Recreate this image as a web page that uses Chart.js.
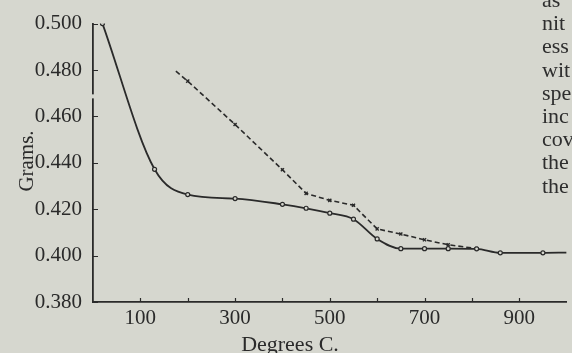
<!DOCTYPE html>
<html>
<head>
<meta charset="utf-8">
<script src="https://cdn.jsdelivr.net/npm/chart.js@4"></script>
<style>
  html, body { margin: 0; padding: 0; background: #d6d7cf; overflow: hidden; }
  #wrap { position: relative; width: 572px; height: 353px; }
  #plot { position: absolute; left: 0; top: 0; }
  #sideText {
    position: absolute; left: 542px; top: -12px; width: 60px;
    font: 22px "Liberation Serif", serif; line-height: 23.2px; color: #2e2e2e;
    white-space: nowrap;
  }
</style>
</head>
<body>
<div id="wrap">
  <canvas id="plot" width="572" height="353"></canvas>
  <div id="sideText">as<br>nit<br>ess<br>wit<br>spe<br>inc<br>cov<br>the<br>the</div>
</div>
<script>
const solidTemps = [20, 130, 200, 300, 400, 450, 500, 550, 600, 650, 700, 750, 810, 860, 950, 1000];
const solidGrams = [0.500, 0.4372, 0.4263, 0.4246, 0.4221, 0.4204, 0.4183, 0.4157, 0.4072, 0.4030, 0.4030, 0.4030, 0.4029, 0.4012, 0.4012, 0.4013];

const dashedTemps = [175, 200, 300, 400, 450, 500, 550, 600, 650, 700, 750, 810];
const dashedGrams = [0.4795, 0.4752, 0.4565, 0.4370, 0.4268, 0.4238, 0.4217, 0.4115, 0.4093, 0.4068, 0.4047, 0.4030];

const xTickValues = [100, 200, 300, 400, 500, 600, 700, 800, 900];
const xTickLabels = ["100", "", "300", "", "500", "", "700", "", "900"];
const yTickValues = [0.38, 0.40, 0.42, 0.44, 0.46, 0.48, 0.50];

const xTitle = "Degrees C.";
const yTitle = "Grams.";

const ink = "#2a2a2a";
const paper = "#d6d7cf";
const serif = "Liberation Serif";

const solidData = solidTemps.map((t, i) => ({ x: t, y: solidGrams[i] }));
const dashedData = dashedTemps.map((t, i) => ({ x: t, y: dashedGrams[i] }));

// small inward ticks, the break in the printed y axis, and the axis titles
const axisExtras = {
  id: "axisExtras",
  afterDraw(chart) {
    const { ctx, chartArea, scales: { x, y } } = chart;
    ctx.save();
    ctx.strokeStyle = ink;
    ctx.lineWidth = 1.2;
    ctx.beginPath();
    xTickValues.forEach((v) => {
      const px = Math.round(x.getPixelForValue(v)) + 0.5;
      ctx.moveTo(px, chartArea.bottom);
      ctx.lineTo(px, chartArea.bottom - 4);
    });
    yTickValues.forEach((v) => {
      const py = Math.round(y.getPixelForValue(v)) + 0.5;
      ctx.moveTo(chartArea.left, py);
      ctx.lineTo(chartArea.left + 5, py);
    });
    ctx.stroke();

    // the scan shows a small gap in the axis line between 0.480 and 0.460
    const gapTop = y.getPixelForValue(0.4695);
    ctx.fillStyle = paper;
    ctx.fillRect(chartArea.left - 2, gapTop, 4, 4);

    ctx.fillStyle = ink;
    ctx.textAlign = "center";
    ctx.textBaseline = "alphabetic";
    ctx.font = "22px '" + serif + "'";
    ctx.fillText(xTitle, 290, 351);

    ctx.translate(33, 161);
    ctx.rotate(-Math.PI / 2);
    ctx.font = "21px '" + serif + "'";
    ctx.fillText(yTitle, 0, 0);
    ctx.restore();
  },
};

const ctx = document.getElementById("plot").getContext("2d");
new Chart(ctx, {
  type: "line",
  data: {
    datasets: [
      {
        label: "solid",
        data: solidData,
        borderColor: ink,
        borderWidth: 1.8,
        cubicInterpolationMode: "monotone",
        pointStyle: "circle",
        pointRadius: solidTemps.map((t, i) => (i === solidTemps.length - 1 ? 0 : 2)),
        pointBackgroundColor: paper,
        pointBorderColor: ink,
        pointBorderWidth: 1.2,
      },
      {
        label: "dashed",
        data: dashedData,
        borderColor: ink,
        borderWidth: 1.6,
        borderDash: [5, 3],
        tension: 0,
        pointStyle: "crossRot",
        pointRadius: dashedTemps.map((t, i) => (i === 0 ? 0 : 2.2)),
        pointBorderColor: ink,
        pointBorderWidth: 1.4,
      },
    ],
  },
  options: {
    responsive: false,
    animation: false,
    layout: { padding: { top: 19.5, right: 2, left: 0, bottom: 0 } },
    plugins: {
      legend: { display: false },
      tooltip: { enabled: false },
    },
    scales: {
      x: {
        type: "linear",
        min: 0,
        max: 1000,
        afterFit(scale) {
          scale.height = 51;
        },
        afterBuildTicks(scale) {
          scale.ticks = xTickValues.map((v) => ({ value: v }));
        },
        grid: { display: true, drawOnChartArea: false, drawTicks: false },
        border: { display: true, color: ink, width: 1.8 },
        ticks: {
          autoSkip: false,
          maxRotation: 0,
          padding: 4,
          color: ink,
          font: { family: serif, size: 21 },
          callback: (v) => xTickLabels[xTickValues.indexOf(v)] ?? "",
        },
      },
      y: {
        type: "linear",
        min: 0.38,
        max: 0.5,
        afterFit(scale) {
          scale.width = 93;
        },
        afterBuildTicks(scale) {
          scale.ticks = yTickValues.map((v) => ({ value: v }));
        },
        grid: { display: true, drawOnChartArea: false, drawTicks: false },
        border: { display: true, color: ink, width: 1.8 },
        ticks: {
          padding: 11,
          color: ink,
          font: { family: serif, size: 21 },
          callback: (v) => Number(v).toFixed(3),
        },
      },
    },
  },
  plugins: [axisExtras],
});
</script>
</body>
</html>
